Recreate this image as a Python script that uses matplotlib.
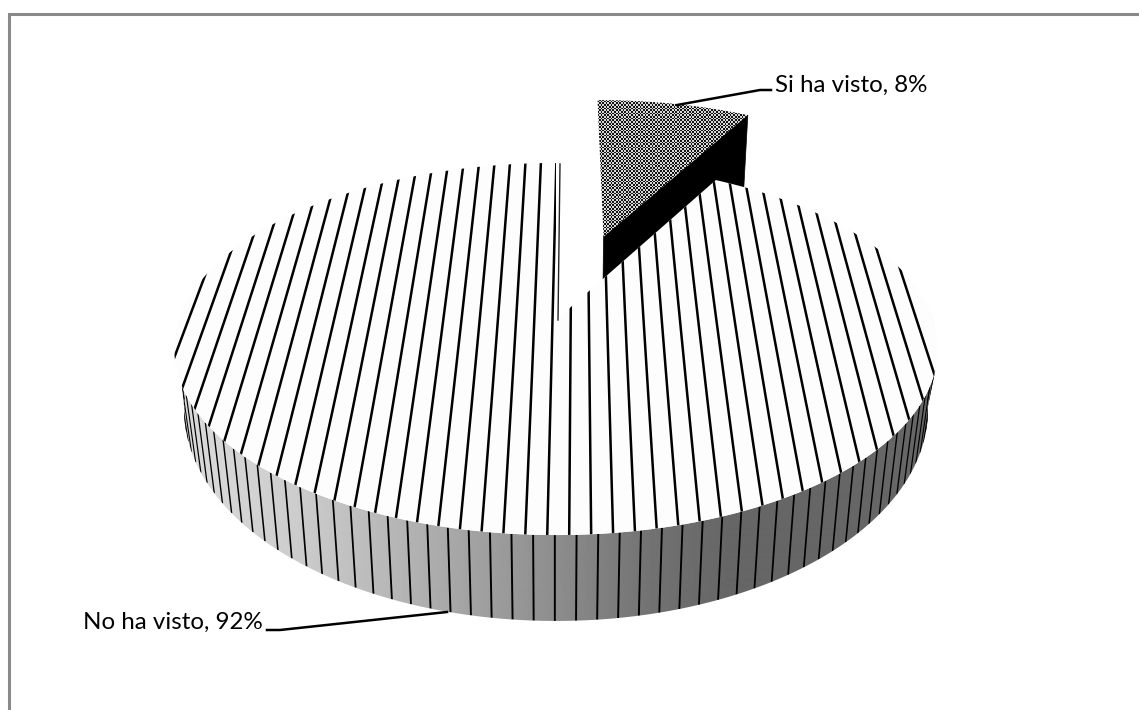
#!/usr/bin/env python3
import numpy as np
import matplotlib
matplotlib.use("Agg")
import matplotlib.pyplot as plt
from matplotlib.patches import Polygon

#========= Data ===========
categories = ["No ha visto", "Si ha visto"]
shares = [92, 8]

#========= Configuration ===========
W, H = 1139, 710
k = 0.156          # perspective of the disc
explode = 0.51     # how far the small slice is pulled out
frame_col = "#8a8a8a"

# top plane and bottom plane of the pie, in pixels
TOP = dict(x0=556.0, y0=320.0, X=377.0, Y=181.5)
BOT = dict(x0=556.0, y0=377.0, X=367.4, Y=205.9)

# grey of the outer wall from left to right
wall_x = [180, 300, 400, 480, 560, 650, 730, 940]
wall_g = [0.86, 0.80, 0.71, 0.63, 0.55, 0.45, 0.40, 0.40]


def proj(u, v, p):
    d = 1 + k * v
    return p["x0"] + p["X"] * u / d, p["y0"] - p["Y"] * v / d


def rim(a, p, cu=0.0, cv=0.0):
    a = np.radians(a)
    return proj(cu + np.sin(a), cv + np.cos(a), p)


fig = plt.figure(figsize=(W / 100, H / 100), dpi=100, facecolor="white")
ax = fig.add_axes([0, 0, 1, 1])
ax.set_xlim(0, W)
ax.set_ylim(H, 0)
ax.axis("off")

# chart frame, only top and left fall inside the canvas
ax.plot([9, 9, W], [H, 13.5, 13.5], color=frame_col, lw=2.2, zorder=1, solid_joinstyle="miter")

split = 360.0 * shares[1] / sum(shares)

#========= Small slice ===========
mid = np.radians(split / 2)
cu, cv = explode * np.sin(mid) + 0.009, explode * np.cos(mid)
sa = np.linspace(0, split, 40)
rx, ry = rim(sa, TOP, cu, cv)
apex = proj(cu, cv, TOP)
# dark side wall, the big pie covers its lower part
side = [apex, (rx[-1], ry[-1]), (rx[-1] - 5, ry[-1] + 90), (apex[0] - 1, apex[1] + 90)]
ax.add_patch(Polygon(side, closed=True, fc="black", ec="black", lw=0.5, zorder=2))

yy, xx = np.mgrid[0:H, 0:W]
checker = (np.floor(xx / 1.7) + np.floor(yy / 1.7)) % 2
sl_poly = Polygon(np.column_stack([np.r_[apex[0], rx], np.r_[apex[1], ry]]), closed=True,
                  fc="none", ec="none", transform=ax.transData)
ax.add_patch(sl_poly)
im = ax.imshow(checker, cmap="gray", vmin=-0.1, vmax=1.2, extent=(0, W, H, 0),
               interpolation="nearest", aspect="auto", zorder=3)
im.set_clip_path(sl_poly)

#========= Outer wall of the big pie ===========
tx, ty = rim(np.linspace(105, 250, 300), TOP)
bx, by = rim(np.linspace(262, 98, 300), BOT)
wall = Polygon(np.column_stack([np.r_[tx, bx], np.r_[ty, by]]), closed=True,
               fc="none", ec="none", transform=ax.transData)
ax.add_patch(wall)
ramp = np.interp(np.arange(W) + 0.5, wall_x, wall_g).reshape(1, -1)
gim = ax.imshow(ramp, cmap="gray", vmin=0, vmax=1, extent=(0, W, H, 0),
                interpolation="bilinear", aspect="auto", zorder=4)
gim.set_clip_path(wall)

# lines on the wall get thinner towards the sides
for a in np.arange(194.1 - 2.79 * 40, 290, 2.79):
    if a < 80:
        continue
    x1, y1 = rim(a, TOP)
    x2, y2 = rim(a, BOT)
    wid = 0.45 + 0.95 * abs(np.cos(np.radians(a)))
    ln, = ax.plot([x1, x2], [y1, y2], color="black", lw=wid, zorder=5, solid_capstyle="butt")
    ln.set_clip_path(wall)

#========= Top of the big pie ===========
ta = np.linspace(split, 360, 500)
tx, ty = rim(ta, TOP)
top = Polygon(np.column_stack([np.r_[TOP["x0"], tx], np.r_[TOP["y0"], ty]]), closed=True,
              fc="#fdfdfd", ec="none", zorder=6)
ax.add_patch(top)

# hatch lines run towards a far point above the chart
vx, vy = 578.0, -720.0
for n in range(-16, 28):
    off = -118 + 21.85 * n
    ys = np.array([150.0, 540.0])
    xs = vx + off * (ys - vy) / (528.0 - vy)
    ln, = ax.plot(xs, ys, color="black", lw=1.8, zorder=7, solid_capstyle="butt")
    ln.set_clip_path(top)

# edge of the cut at twelve o'clock
ax.plot([560, 558], [164, 320], color="#222222", lw=1.0, zorder=7)

#========= Labels ===========
ax.plot([677, 760, 771], [105, 90, 90], color="black", lw=1.8, zorder=8)
ax.plot([447, 280, 267], [612, 630, 630], color="black", lw=1.8, zorder=8)
ax.text(775, 85, "%s, %d%%" % (categories[1], shares[1]), family="Lato", fontsize=17.4,
        va="center", ha="left", color="black", zorder=9)
ax.text(83, 622, "%s, %d%%" % (categories[0], shares[0]), family="Lato", fontsize=17.4,
        va="center", ha="left", color="black", zorder=9)

fig.savefig("out.png", dpi=100)
